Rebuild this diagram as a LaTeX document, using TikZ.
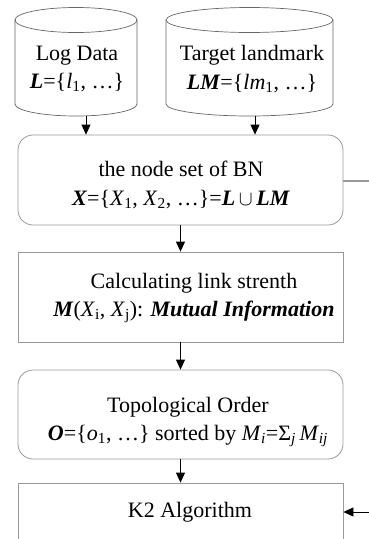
\documentclass[tikz,border=0pt]{standalone}
\usepackage{fontspec}
\setmainfont{Liberation Serif}
\usetikzlibrary{arrows.meta}
\newcommand{\bi}[1]{\textbf{\textit{#1}}}
\begin{document}
\begin{tikzpicture}[x=1pt,y=-1pt,
  txt/.style={align=center, font=\fontsize{22}{28.5}\selectfont, inner sep=0pt},
  box/.style={draw=black!40, line width=0.8pt, minimum width=325pt, minimum height=90pt, inner sep=0pt},
  rbox/.style={box, rounded corners=15pt},
  arr/.style={-{Triangle[length=10pt,width=9pt]}, line width=0.8pt},
  cyl/.style={draw=black!60, line width=0.7pt}]
\useasboundingbox (0,0) rectangle (369,539);
% cylinders
\draw[cyl] (76,20) ellipse [x radius=61, y radius=12.5];
\draw[cyl] (15,20) -- (15,104) arc[start angle=180, end angle=0, x radius=61, y radius=12] -- (137,20);
\draw[cyl] (249.5,20) ellipse [x radius=83.5, y radius=12.5];
\draw[cyl] (166,20) -- (166,104) arc[start angle=180, end angle=0, x radius=83.5, y radius=12] -- (333,20);
\node[txt] (log) at (77,69) {Log Data\\\bi{L}=\{\textit{l}\textsubscript{1}, …\}};
\node[txt] (target) at (252,69) {Target landmark\\\bi{LM}=\{\textit{lm}\textsubscript{1}, …\}};
\coordinate (c1b) at (86,116);
\coordinate (c2b) at (255,116);
% boxes
\node[rbox] (bn) at (180.5,180) {};
\node[txt] (bnt) at (181,185) {the node set of BN\\\bi{X}=\{\textit{X}\textsubscript{1}, \textit{X}\textsubscript{2}, …\}=\bi{L}\,$\cup$\,\bi{LM}};
\node[box] (calc) at (180.5,297) {};
\node[txt] (calct) at (194,298) {Calculating link strenth\\\bi{M}(\textit{X}\textsubscript{i}, \textit{X}\textsubscript{j}): \bi{Mutual Information}};
\node[rbox, minimum height=89pt] (topo) at (180.5,414.5) {};
\node[txt] (topot) at (188,422) {Topological Order\\\bi{O}=\{\textit{o}\textsubscript{1}, …\} sorted by \textit{M}\textsubscript{\textit{i}}=Σ\textsubscript{\textit{j}}\,\textit{M}\textsubscript{\textit{ij}}};
\node[box, minimum height=70pt] (k2) at (180.5,518) {};
\node[txt] (k2t) at (190,512) {K2 Algorithm};
\coordinate (bnout) at (369,181);
\coordinate (kin) at (369,512);
% connectors
\draw[arr] (c1b) -- (c1b |- bn.north);
\draw[arr] (c2b) -- (c2b |- bn.north);
\draw[arr, line width=1.2pt] (bn) -- (calc);
\draw[arr] (calc) -- (topo);
\draw[arr] (topo) -- (k2);
\draw[draw=black!40, line width=1.2pt] (bn.east |- bnout) -- (bnout);
\draw[arr] (kin) -- (k2.east |- kin);
\end{tikzpicture}
\end{document}
